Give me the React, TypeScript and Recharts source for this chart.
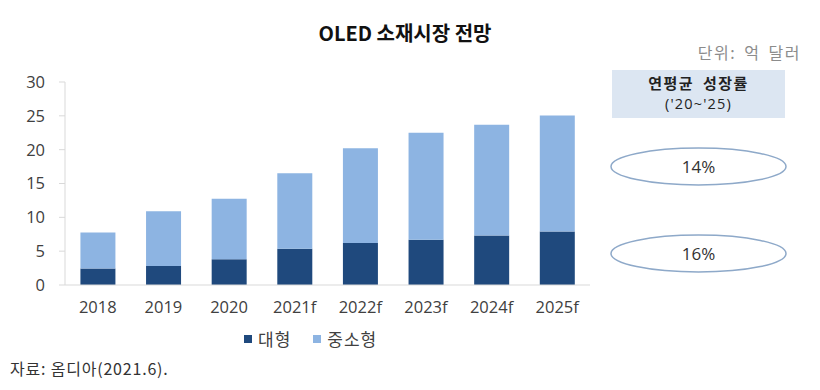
import React from "react";
import { BarChart, Bar, XAxis, YAxis } from "recharts";

const years = ["2018", "2019", "2020", "2021f", "2022f", "2023f", "2024f", "2025f"];
const large = [2.45, 2.8, 3.8, 5.35, 6.2, 6.7, 7.3, 7.9];
const smallMid = [5.3, 8.1, 8.95, 11.15, 14.0, 15.8, 16.4, 17.15];
const yTicks = [0, 5, 10, 15, 20, 25, 30];
const cagr = ["14%", "16%"];

const DARK = "#1f497d";
const LIGHT = "#8db4e2";
const FONT = "'Open Sans', 'Noto Sans CJK KR', sans-serif";
const KFONT = "'Noto Sans CJK KR', sans-serif";

const data = years.map((y, i) => ({ year: y, large: large[i], small: smallMid[i] }));

const legendItems = [
  { label: "대형", color: DARK },
  { label: "중소형", color: LIGHT },
];

const boxLine: React.CSSProperties = {
  position: "absolute", left: 0, width: 173, height: 21, display: "flex",
  alignItems: "center", justifyContent: "center", color: "#222",
};

export default function App() {
  return (
    <div style={{ position: "absolute", left: 0, top: 0, width: 820, height: 390, background: "#fff" }}>
      <div
        style={{
          position: "absolute", top: 19, left: 0, width: 810, textAlign: "center",
          fontFamily: KFONT, fontWeight: 700, fontSize: 20, color: "#111", lineHeight: "28px",
        }}
      >
        OLED 소재시장 전망
      </div>
      <div
        style={{
          position: "absolute", top: 40, right: 19, fontFamily: KFONT, fontSize: 16, color: "#8c8c8c",
          letterSpacing: 1.5, wordSpacing: 3, lineHeight: "24px",
        }}
      >
        단위: 억 달러
      </div>
      <div style={{ position: "absolute", left: 612, top: 70, width: 173, height: 48, background: "#dce6f2" }}>
        <div style={{ ...boxLine, top: 2, fontFamily: KFONT, fontSize: 15, fontWeight: 700, letterSpacing: 1.5, wordSpacing: 4 }}>
          연평균 성장률
        </div>
        <div style={{ ...boxLine, top: 23, fontFamily: FONT, fontSize: 14.5, letterSpacing: 1.2 }}>
          ('20~'25)
        </div>
      </div>
      <svg width={820} height={390} style={{ position: "absolute", left: 0, top: 0 }}>
        {cagr.map((t, i) => (
          <g key={t}>
            <ellipse cx={698.5} cy={166.5 + i * 87} rx={87.5} ry={18.5} fill="#fff" stroke="#8ea9c9" strokeWidth={1.5} />
            <text x={698.5} y={173 + i * 87} textAnchor="middle" fontFamily={FONT} fontSize={17} fill="#333">
              {t}
            </text>
          </g>
        ))}
      </svg>
      <div style={{ position: "absolute", left: 0, top: 0 }}>
        <BarChart width={820} height={390} data={data} margin={{ top: 82, right: 230, bottom: 75, left: 0 }} barCategoryGap="23.5%">
          <XAxis
            dataKey="year"
            height={30}
            tickLine={false}
            axisLine={{ stroke: "#d9d9d9" }}
            tick={{ fill: "#404040", fontSize: 16.5, fontFamily: FONT }}
            tickMargin={10}
            interval={0}
          />
          <YAxis
            domain={[0, 30]}
            ticks={yTicks}
            axisLine={{ stroke: "#d9d9d9" }}
            tickLine={{ stroke: "#d9d9d9" }}
            tickSize={6}
            tickMargin={14}
            width={65}
            tick={{ fill: "#404040", fontSize: 16.5, fontFamily: FONT }}
          />
          <Bar dataKey="large" stackId="a" fill={DARK} name="대형" isAnimationActive={false} />
          <Bar dataKey="small" stackId="a" fill={LIGHT} name="중소형" isAnimationActive={false} />
        </BarChart>
      </div>
      <div
        style={{
          position: "absolute", left: 244, top: 327, display: "flex", gap: 22,
          fontFamily: KFONT, fontSize: 17, color: "#404040", lineHeight: "24px",
        }}
      >
        {legendItems.map((it) => (
          <span key={it.label} style={{ display: "flex", alignItems: "center", letterSpacing: 1 }}>
            <span style={{ width: 8, height: 8, background: it.color, marginRight: 6, display: "inline-block" }} />
            {it.label}
          </span>
        ))}
      </div>
      <div
        style={{
          position: "absolute", left: 10, top: 357, fontFamily: KFONT, fontSize: 16, color: "#333",
          letterSpacing: 0.8, lineHeight: "22px",
        }}
      >
        자료: 옴디아(2021.6).
      </div>
    </div>
  );
}
